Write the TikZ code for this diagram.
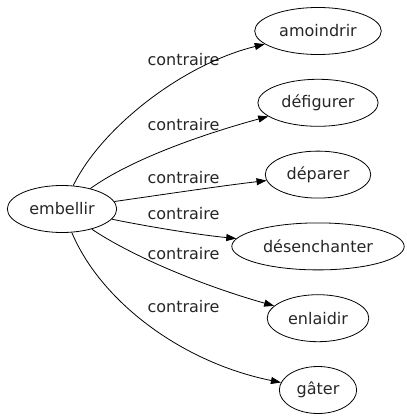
\documentclass[tikz,border=0pt]{standalone}
\usepackage{fontspec}
\setmainfont{DejaVu Sans}
\usetikzlibrary{arrows.meta, positioning, shapes.geometric}
\tikzstyle{word} = [ellipse, draw=black, line width=0.8pt, minimum height=47pt, inner xsep=6pt, font=\fontsize{16}{18}\selectfont, text=black!85]
\tikzstyle{rel} = [anchor=base west, font=\fontsize{16}{18}\selectfont, text=black!85]
\tikzstyle{arrow} = [line width=0.8pt, -{Triangle[length=10pt, width=7pt]}]

\begin{document}
\begin{tikzpicture}[x=1pt, y=-1pt, node distance=24pt]
        \useasboundingbox (0,0) rectangle (406,419);
        % Nodes
        \node (embellir) [word] at (62,209) {embellir};
        \node (amoindrir) [word] at (318,31) {amoindrir};
        \node (defigurer) [word, below=of amoindrir] {défigurer};
        \node (deparer) [word, below=of defigurer] {déparer};
        \node (desenchanter) [word, below=of deparer] {désenchanter};
        \node (enlaidir) [word, below=of desenchanter] {enlaidir};
        \node (gater) [word, below=of enlaidir] {gâter};

        % Labels
        \node (lbla) [rel] at (144,66) {contraire};
        \node (lblb) [rel] at (144,131) {contraire};
        \node (lblc) [rel] at (144,184) {contraire};
        \node (lbld) [rel] at (144,219) {contraire};
        \node (lble) [rel] at (144,259) {contraire};
        \node (lblf) [rel] at (144,312) {contraire};

        % Arrows
        \draw [arrow] (embellir) .. controls (100,130) and (180,65) .. (amoindrir);
        \draw [arrow] (embellir) .. controls (130,160) and (200,135) .. (defigurer);
        \draw [arrow] (embellir) .. controls (160,195) and (220,186) .. (deparer);
        \draw [arrow] (embellir) .. controls (150,227) and (200,235) .. (desenchanter);
        \draw [arrow] (embellir) .. controls (130,255) and (200,285) .. (enlaidir);
        \draw [arrow] (embellir) .. controls (100,300) and (180,362) .. (gater);
    \end{tikzpicture}
\end{document}
